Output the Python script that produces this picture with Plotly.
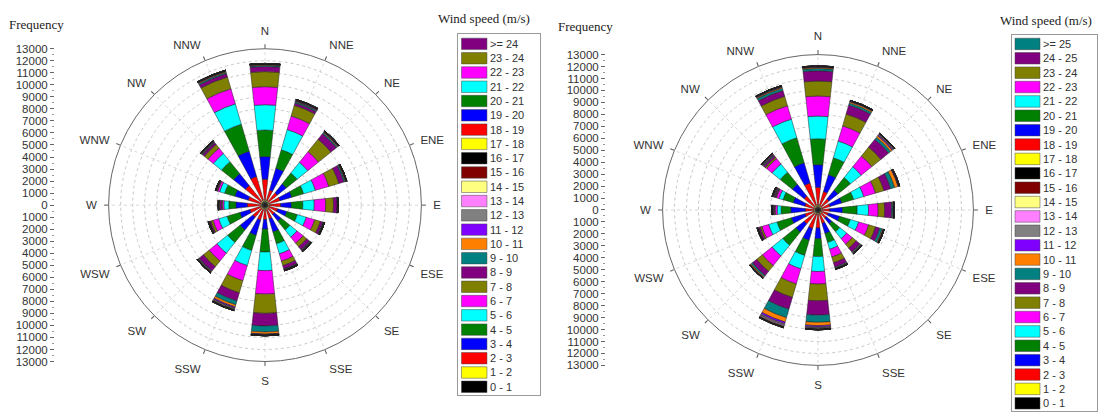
import plotly.graph_objects as go

# ---------------- data ----------------
directions = ["N", "NNE", "NE", "ENE", "E", "ESE", "SE", "SSE",
              "S", "SSW", "SW", "WSW", "W", "WNW", "NW", "NNW"]

bins_left = ["0 - 1", "1 - 2", "2 - 3", "3 - 4", "4 - 5", "5 - 6", "6 - 7", "7 - 8",
             "8 - 9", "9 - 10", "10 - 11", "11 - 12", "12 - 13", "13 - 14", "14 - 15",
             "15 - 16", "16 - 17", "17 - 18", "18 - 19", "19 - 20", "20 - 21", "21 - 22",
             "22 - 23", "23 - 24", ">= 24"]
bins_right = bins_left[:-1] + ["24 - 25", ">= 25"]

base_colors = ["#000000", "#FFFF00", "#FF0000", "#0000FF", "#008000", "#00FFFF",
               "#FF00FF", "#808000", "#800080", "#008080", "#FF8000", "#8000FF",
               "#808080", "#FF80FF", "#FFFF80", "#800000", "#000000", "#FFFF00",
               "#FF0000", "#0000FF", "#008000", "#00FFFF", "#FF00FF", "#808000",
               "#800080", "#008080"]
colors_left = base_colors[:25]
colors_right = base_colors[:26]

# Left wind rose: frequency per speed bin, directions in order above
L00 = [330, 300, 300, 300, 300, 280, 280, 300, 300, 300, 300, 280, 280, 280, 320, 330]
L01 = [110, 100, 90, 90, 90, 80, 80, 90, 90, 100, 90, 80, 80, 80, 100, 120]
L02 = [1710, 910, 940, 910, 910, 740, 640, 810, 810, 900, 910, 950, 1120, 1090, 1670, 2030]
L03 = [1890, 1890, 950, 1030, 900, 800, 700, 1130, 800, 1310, 1360, 870, 940, 1160, 1260, 2190]
L04 = [2210, 1600, 1150, 1020, 950, 900, 960, 1020, 1900, 1320, 1330, 1110, 590, 890, 1290, 2340]
L05 = [2100, 1750, 1140, 1020, 950, 780, 760, 870, 1550, 1310, 1140, 730, 410, 430, 880, 1760]
L06 = [1500, 1170, 1140, 1160, 950, 730, 650, 640, 1950, 1310, 840, 490, 130, 170, 570, 1310]
L07 = [1250, 920, 1330, 870, 650, 490, 380, 380, 1600, 1050, 610, 190, 70, 50, 380, 1020]
L08 = [430, 210, 580, 440, 300, 200, 310, 290, 1050, 700, 460, 110, 160, 80, 180, 290]
L09 = [90, 100, 100, 100, 40, 50, 60, 50, 500, 340, 60, 30, 40, 20, 50, 110]
L10 = [60, 50, 60, 50, 20, 30, 30, 30, 170, 180, 50, 20, 30, 20, 40, 70]
L11 = [30, 50, 40, 30, 10, 20, 30, 20, 40, 90, 30, 20, 15, 10, 40, 35]
L12 = [20, 30, 25, 20, 8, 15, 20, 15, 30, 60, 15, 12, 10, 6, 25, 25]
L13 = [15, 25, 20, 15, 5, 12, 15, 12, 20, 50, 12, 10, 8, 5, 20, 20]
L14 = [10, 15, 12, 10, 3, 8, 12, 8, 15, 35, 8, 7, 6, 4, 12, 12]
L15 = [8, 12, 10, 8, 2, 7, 10, 7, 12, 30, 7, 5, 5, 3, 10, 10]
L16 = [7, 18, 13, 7, 2, 8, 13, 8, 13, 35, 8, 6, 6, 2, 13, 8]
L17 = [3, 5, 4, 3, 1, 3, 4, 3, 4, 10, 3, 2, 2, 1, 4, 3]
L18 = [2, 3, 3, 2, 1, 2, 3, 2, 3, 6, 2, 1, 1, 1, 3, 2]
L19 = [2, 2, 2, 2, 1, 1, 2, 2, 2, 4, 2, 1, 1, 1, 2, 2]
L20 = [1, 2, 1, 1, 0, 1, 1, 1, 2, 3, 1, 1, 1, 0, 1, 1]
L21 = [1, 1, 1, 1, 0, 1, 1, 1, 1, 2, 1, 0, 0, 0, 1, 1]
L22 = [1, 1, 1, 1, 0, 1, 1, 1, 1, 2, 1, 0, 0, 0, 1, 1]
L23 = [1, 1, 1, 1, 0, 1, 1, 1, 1, 1, 1, 0, 0, 0, 1, 1]
L24 = [1, 1, 1, 1, 0, 1, 1, 1, 1, 1, 1, 0, 0, 0, 1, 1]
freq_left = [L00, L01, L02, L03, L04, L05, L06, L07, L08, L09, L10, L11, L12,
             L13, L14, L15, L16, L17, L18, L19, L20, L21, L22, L23, L24]

# Right wind rose
R00 = [320, 300, 280, 280, 280, 260, 260, 280, 300, 300, 300, 280, 280, 280, 300, 330]
R01 = [100, 90, 80, 80, 80, 80, 80, 80, 90, 90, 90, 80, 80, 80, 90, 110]
R02 = [1480, 1220, 830, 700, 620, 570, 560, 810, 1110, 1220, 1100, 780, 700, 780, 1100, 1910]
R03 = [1890, 1470, 960, 1020, 1080, 970, 600, 880, 900, 1030, 890, 1180, 1220, 1030, 1270, 1760]
R04 = [2170, 1470, 1340, 1030, 1220, 940, 840, 790, 1500, 1320, 1410, 1260, 810, 880, 1300, 2190]
R05 = [1900, 1460, 1150, 880, 950, 730, 740, 590, 1250, 1170, 1150, 730, 330, 350, 880, 1620]
R06 = [1680, 1320, 1150, 1030, 810, 870, 600, 670, 1050, 1320, 1040, 590, 160, 230, 580, 1170]
R07 = [1250, 1030, 960, 730, 540, 600, 420, 500, 1400, 1170, 610, 140, 60, 60, 150, 820]
R08 = [860, 790, 840, 590, 600, 370, 400, 390, 1200, 1030, 460, 150, 100, 90, 160, 500]
R09 = [190, 180, 230, 350, 100, 220, 80, 70, 600, 740, 130, 30, 40, 50, 60, 210]
R10 = [80, 110, 150, 290, 50, 70, 50, 40, 280, 380, 80, 30, 30, 40, 50, 80]
R11 = [45, 40, 80, 45, 22, 32, 30, 26, 110, 150, 32, 22, 25, 45, 45, 48]
R12 = [30, 25, 55, 30, 15, 22, 20, 17, 75, 105, 22, 15, 17, 30, 30, 32]
R13 = [22, 18, 40, 22, 11, 16, 14, 12, 55, 80, 16, 11, 12, 22, 22, 24]
R14 = [14, 12, 28, 14, 7, 10, 9, 8, 36, 55, 10, 7, 8, 14, 14, 15]
R15 = [10, 9, 20, 10, 5, 7, 6, 6, 27, 40, 7, 5, 6, 10, 10, 11]
R16 = [8, 7, 15, 8, 4, 6, 5, 5, 20, 30, 6, 4, 5, 8, 8, 9]
R17 = [3, 2, 6, 3, 1, 2, 2, 2, 8, 10, 2, 2, 2, 3, 3, 3]
R18 = [2, 2, 4, 2, 1, 1, 1, 1, 5, 7, 1, 1, 1, 2, 2, 2]
R19 = [1, 1, 3, 1, 1, 1, 1, 1, 4, 5, 1, 1, 1, 1, 1, 1]
R20 = [1, 1, 2, 1, 1, 1, 1, 1, 3, 4, 1, 1, 1, 1, 1, 1]
R21 = [1, 1, 2, 1, 1, 1, 0, 1, 2, 4, 1, 0, 1, 1, 1, 1]
R22 = [1, 1, 2, 1, 0, 1, 0, 0, 2, 3, 1, 0, 0, 1, 1, 1]
R23 = [1, 1, 1, 1, 0, 0, 0, 0, 1, 3, 1, 0, 0, 1, 1, 1]
R24 = [1, 0, 1, 1, 0, 0, 0, 0, 1, 2, 0, 0, 0, 1, 1, 1]
R25 = [0, 0, 1, 0, 0, 0, 0, 0, 1, 2, 0, 0, 0, 0, 0, 0]
freq_right = [R00, R01, R02, R03, R04, R05, R06, R07, R08, R09, R10, R11, R12,
              R13, R14, R15, R16, R17, R18, R19, R20, R21, R22, R23, R24, R25]

freq_max = 13000
freq_ticks = list(range(-freq_max, freq_max + 1, 1000))
freq_ticktext = [str(abs(v)) for v in freq_ticks]

# ---------------- figure ----------------
W, H = 1101, 419
def px_x(v):
    return v / W
def px_y(v):
    return (H - v) / H

SANS = "Liberation Sans, Arial, sans-serif"
SERIF = "Liberation Serif, Times New Roman, serif"

fig = go.Figure()

for vals, name, col in zip(freq_left, bins_left, colors_left):
    fig.add_trace(go.Barpolar(r=vals, theta=directions, name=name, subplot="polar",
                              marker=dict(color=col, line=dict(color="#222", width=0.5)),
                              showlegend=False, hoverinfo="skip"))
for vals, name, col in zip(freq_right, bins_right, colors_right):
    fig.add_trace(go.Barpolar(r=vals, theta=directions, name=name, subplot="polar2",
                              marker=dict(color=col, line=dict(color="#222", width=0.5)),
                              showlegend=False, hoverinfo="skip"))

# empty overlays that only carry the short angular tick marks
for sp in ("polar3", "polar4"):
    fig.add_trace(go.Barpolar(r=[0] * len(directions), theta=directions, subplot=sp,
                              marker=dict(opacity=0, line=dict(width=0)),
                              showlegend=False, hoverinfo="skip"))

# invisible anchors for the frequency scales
for xa, ya in (("x", "y"), ("x2", "y2")):
    fig.add_trace(go.Scatter(x=[0], y=[0], mode="markers", marker=dict(opacity=0),
                             xaxis=xa, yaxis=ya, showlegend=False, hoverinfo="skip"))

# legends drawn as swatch bars
for bins, cols, xa, ya in ((bins_left, colors_left, "x3", "y3"),
                           (bins_right, colors_right, "x4", "y4")):
    fig.add_trace(go.Bar(x=[1] * len(bins), y=bins, orientation="h",
                         marker=dict(color=cols, line=dict(color="#444", width=0.5)),
                         text=bins, textposition="outside", cliponaxis=False,
                         constraintext="none",
                         textfont=dict(family=SANS, size=11, color="#333"),
                         xaxis=xa, yaxis=ya, showlegend=False, hoverinfo="skip"))

def dom(cx, cy, R):
    return dict(x=[px_x(cx - R), px_x(cx + R)], y=[px_y(cy + R), px_y(cy - R)])

def polar_layout(cx, cy, R):
    return dict(
        domain=dom(cx, cy, R),
        bgcolor="white",
        bargap=0.45,
        barmode="stack",
        radialaxis=dict(range=[0, freq_max], dtick=1000, showticklabels=False,
                        ticks="", showline=False, gridcolor="#c8c8c8", griddash="dot",
                        gridwidth=1),
        angularaxis=dict(type="category", categoryarray=directions, rotation=90,
                         direction="clockwise", ticks="outside", ticklen=9,
                         tickcolor="rgba(0,0,0,0)", linecolor="#666", linewidth=1,
                         showgrid=True, gridcolor="#d8d8d8", griddash="dot",
                         tickfont=dict(family=SANS, size=11.5, color="#333")),
    )

def tick_overlay(cx, cy, R):
    return dict(
        domain=dom(cx, cy, R),
        bgcolor="rgba(0,0,0,0)",
        radialaxis=dict(range=[0, freq_max], visible=False),
        angularaxis=dict(type="category", categoryarray=directions, rotation=90,
                         direction="clockwise", ticks="outside", ticklen=4,
                         tickcolor="#555", showticklabels=False, showline=False,
                         showgrid=False),
    )

LC = (265, 205, 161)
RC = (818, 210, 160)

def freq_axis(cy, R):
    return dict(domain=[px_y(cy + R), px_y(cy - R)], range=[-freq_max, freq_max],
                tickvals=freq_ticks, ticktext=freq_ticktext, ticks="outside",
                ticklen=4, tickcolor="#666", showgrid=False, zeroline=False,
                showline=False, tickfont=dict(family=SANS, size=11.5, color="#333"),
                minor=dict(ticks="outside", ticklen=2, dtick=500, tickcolor="#999"))

fig.update_layout(
    width=W, height=H, autosize=False,
    margin=dict(l=0, r=0, t=0, b=0),
    paper_bgcolor="white", plot_bgcolor="white",
    showlegend=False,
    polar=polar_layout(*LC),
    polar2=polar_layout(*RC),
    polar3=tick_overlay(*LC),
    polar4=tick_overlay(*RC),
    xaxis=dict(domain=[px_x(55), px_x(56)], visible=False, range=[0, 1]),
    yaxis=dict(anchor="x", **freq_axis(LC[1], LC[2])),
    xaxis2=dict(domain=[px_x(606), px_x(607)], visible=False, range=[0, 1]),
    yaxis2=dict(anchor="x2", **freq_axis(RC[1], RC[2])),
    xaxis3=dict(domain=[px_x(458), px_x(540)], range=[-0.137, 3.08], anchor="y3",
                showticklabels=False, ticks="", showgrid=False, zeroline=False,
                showline=True, mirror=True, linecolor="#999", linewidth=1),
    yaxis3=dict(domain=[px_y(400), px_y(29)], type="category", categoryarray=bins_left,
                range=[-0.544, 24.68], anchor="x3", showticklabels=False, ticks="",
                showgrid=False, zeroline=False, showline=True, mirror=True,
                linecolor="#999", linewidth=1),
    xaxis4=dict(domain=[px_x(1012), px_x(1097)], range=[-0.12, 3.28], anchor="y4",
                showticklabels=False, ticks="", showgrid=False, zeroline=False,
                showline=True, mirror=True, linecolor="#999", linewidth=1),
    yaxis4=dict(domain=[px_y(417), px_y(30)], type="category", categoryarray=bins_right,
                range=[-0.54, 25.61], anchor="x4", showticklabels=False, ticks="",
                showgrid=False, zeroline=False, showline=True, mirror=True,
                linecolor="#999", linewidth=1),
    bargap=0.2,
    annotations=[
        dict(text="Frequency", x=px_x(7), y=px_y(19), xref="paper", yref="paper",
             xanchor="left", yanchor="middle", showarrow=False,
             font=dict(family=SERIF, size=13, color="#222")),
        dict(text="Frequency", x=px_x(556), y=px_y(21), xref="paper", yref="paper",
             xanchor="left", yanchor="middle", showarrow=False,
             font=dict(family=SERIF, size=13, color="#222")),
        dict(text="Wind speed (m/s)", x=px_x(484), y=px_y(13), xref="paper", yref="paper",
             xanchor="center", yanchor="middle", showarrow=False,
             font=dict(family=SERIF, size=13, color="#222")),
        dict(text="Wind speed (m/s)", x=px_x(1046), y=px_y(15), xref="paper", yref="paper",
             xanchor="center", yanchor="middle", showarrow=False,
             font=dict(family=SERIF, size=13, color="#222")),
    ],
)

fig.write_html("out.html", config={"displayModeBar": False},
               post_script="document.body.style.margin='0px';")
